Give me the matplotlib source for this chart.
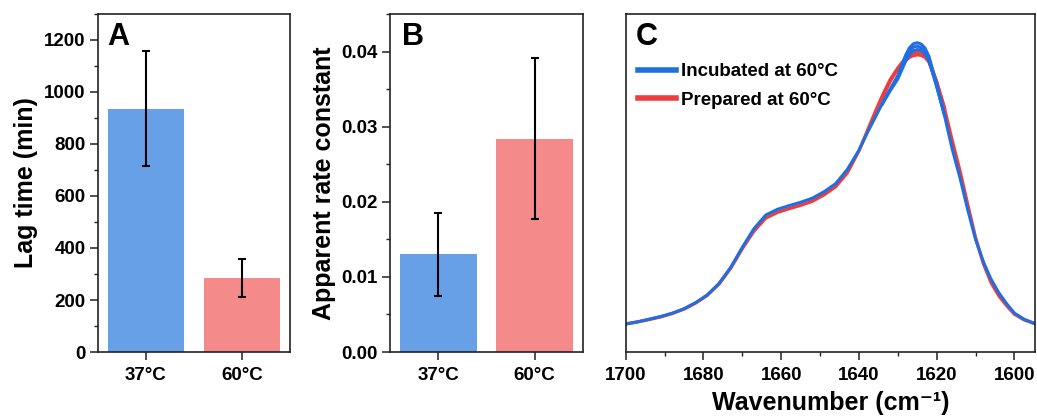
import matplotlib
matplotlib.use("Agg")
import matplotlib.pyplot as plt
from matplotlib.ticker import MultipleLocator
from matplotlib.lines import Line2D

plt.rcParams['font.family'] = ['Liberation Sans', 'DejaVu Sans']
plt.rcParams['font.weight'] = 'bold'

# ---- data ----
temps = ["37°C", "60°C"]
lag_time = [936, 285]
lag_err = [222, 73]
rate_const = [0.0130, 0.0284]
rate_err = [0.0055, 0.0107]

wn = [1700, 1697, 1694, 1691, 1688, 1685, 1682, 1679, 1676, 1673, 1670, 1667,
      1664, 1661, 1658, 1655, 1652, 1649, 1646, 1643, 1640, 1638, 1636, 1634,
      1632, 1630, 1628, 1627, 1626, 1625, 1624, 1623, 1622, 1620, 1618, 1616,
      1614, 1612, 1610, 1608, 1606, 1604, 1602, 1600, 1597.5, 1595]
incubated = [0.083, 0.089, 0.097, 0.105, 0.115, 0.128, 0.146, 0.169, 0.203, 0.250,
             0.310, 0.365, 0.405, 0.422, 0.433, 0.443, 0.455, 0.474, 0.498, 0.540,
             0.597, 0.645, 0.690, 0.735, 0.775, 0.812, 0.868, 0.890, 0.902, 0.905,
             0.900, 0.888, 0.865, 0.785, 0.700, 0.600, 0.515, 0.420, 0.333, 0.267,
             0.215, 0.175, 0.143, 0.115, 0.097, 0.085]
prepared = [0.083, 0.089, 0.096, 0.104, 0.114, 0.127, 0.145, 0.168, 0.201, 0.248,
            0.306, 0.358, 0.396, 0.413, 0.424, 0.434, 0.446, 0.465, 0.489, 0.530,
            0.595, 0.650, 0.705, 0.758, 0.805, 0.840, 0.870, 0.880, 0.885, 0.886,
            0.884, 0.878, 0.863, 0.800, 0.720, 0.625, 0.535, 0.435, 0.338, 0.262,
            0.205, 0.166, 0.137, 0.112, 0.095, 0.085]

# other replicates only differ around the peak
peak_wn = [1634, 1632, 1630, 1628, 1627, 1626, 1625, 1624, 1623, 1622, 1620, 1618]
incubated_rep2 = [0.735, 0.777, 0.818, 0.878, 0.900, 0.912, 0.915, 0.911, 0.899, 0.875, 0.792, 0.703]
incubated_rep3 = [0.733, 0.772, 0.808, 0.860, 0.880, 0.891, 0.895, 0.892, 0.882, 0.862, 0.787, 0.702]
prepared_rep2 = [0.752, 0.800, 0.838, 0.862, 0.872, 0.877, 0.879, 0.878, 0.872, 0.858, 0.797, 0.722]

bar_colors = ["#68A0E8", "#F58A8A"]
blue = "#1F6FE3"
red = "#EF3D3D"
tick_fs = 13.5
label_fs = 18

fig = plt.figure(figsize=(10.37, 4.19), dpi=100)
axA = fig.add_axes([0.0945, 0.1599, 0.1851, 0.8067])
axB = fig.add_axes([0.3761, 0.1599, 0.1858, 0.8067])
axC = fig.add_axes([0.6034, 0.1599, 0.3947, 0.8067])


def style(ax):
    for s in ax.spines.values():
        s.set_linewidth(1.2)
        s.set_color("#222222")
    ax.tick_params(which='major', direction='out', length=6, width=1.1,
                   labelsize=tick_fs, pad=3, color="#222222")
    ax.tick_params(which='minor', direction='out', length=3, width=1.0, color="#222222")
    for lab in ax.get_xticklabels() + ax.get_yticklabels():
        lab.set_fontweight('bold')


x = range(len(temps))

# A
axA.bar(x, lag_time, width=0.8, color=bar_colors)
axA.errorbar(x, lag_time, yerr=lag_err, fmt='none', ecolor='black',
             elinewidth=1.5, capsize=3, capthick=1.5)
axA.set_xlim(-0.5, 1.5)
axA.set_ylim(0, 1300)
axA.set_xticks(list(x))
axA.set_xticklabels(temps)
axA.yaxis.set_major_locator(MultipleLocator(200))
axA.yaxis.set_minor_locator(MultipleLocator(100))
axA.set_ylabel("Lag time (min)", fontsize=label_fs, fontweight='bold', labelpad=4)
style(axA)
axA.tick_params(axis='x', pad=5)
axA.text(0.05, 0.975, "A", transform=axA.transAxes, fontsize=22,
         fontweight='bold', ha='left', va='top')

# B
axB.bar(x, rate_const, width=0.8, color=bar_colors)
axB.errorbar(x, rate_const, yerr=rate_err, fmt='none', ecolor='black',
             elinewidth=1.5, capsize=3, capthick=1.5)
axB.set_xlim(-0.5, 1.5)
axB.set_ylim(0, 0.045)
axB.set_xticks(list(x))
axB.set_xticklabels(temps)
axB.yaxis.set_major_locator(MultipleLocator(0.01))
axB.yaxis.set_minor_locator(MultipleLocator(0.005))
axB.yaxis.set_major_formatter(matplotlib.ticker.FormatStrFormatter('%.2f'))
axB.set_ylabel("Apparent rate constant", fontsize=label_fs, fontweight='bold', labelpad=4)
style(axB)
axB.tick_params(axis='x', pad=5)
axB.text(0.06, 0.975, "B", transform=axB.transAxes, fontsize=22,
         fontweight='bold', ha='left', va='top')

# C
axC.plot(wn, prepared, color=red, lw=2.4)
axC.plot(peak_wn, prepared_rep2, color=red, lw=2.4)
axC.plot(wn, incubated, color=blue, lw=2.2)
axC.plot(peak_wn, incubated_rep2, color=blue, lw=2.2)
axC.plot(peak_wn, incubated_rep3, color=blue, lw=2.2)
axC.set_xlim(1700, 1594.7)
axC.set_ylim(0, 1)
axC.xaxis.set_major_locator(MultipleLocator(20))
axC.xaxis.set_minor_locator(MultipleLocator(10))
axC.set_yticks([])
axC.set_xlabel("Wavenumber (cm⁻¹)", fontsize=label_fs,
               fontweight='bold', labelpad=5)
style(axC)
axC.tick_params(axis='x', pad=5)
axC.text(0.025, 0.975, "C", transform=axC.transAxes, fontsize=22,
         fontweight='bold', ha='left', va='top')
handles = [Line2D([], [], color=blue, lw=4), Line2D([], [], color=red, lw=4)]
axC.legend(handles, ["Incubated at 60°C", "Prepared at 60°C"], loc='upper left',
           bbox_to_anchor=(0.03, 0.855), frameon=False, borderaxespad=0,
           borderpad=0, handlelength=2.0, handletextpad=0.3, labelspacing=0.62,
           prop={'size': tick_fs, 'weight': 'bold'})

fig.savefig("out.png", dpi=100)
